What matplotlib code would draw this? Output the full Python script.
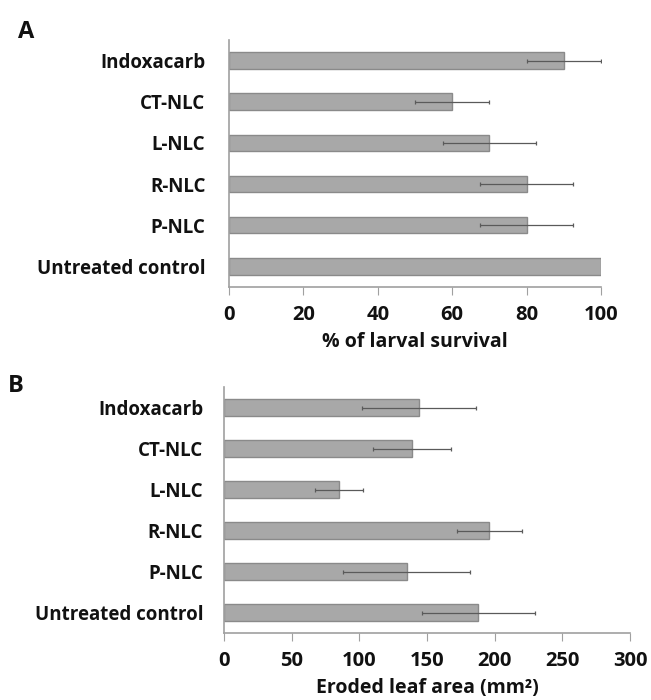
import numpy as np
import matplotlib.pyplot as plt

plt.rcParams['font.family'] = ['Open Sans', 'DejaVu Sans']
plt.rcParams['font.weight'] = 'bold'

# === Données ===
categories = ["Untreated control", "P-NLC", "R-NLC", "L-NLC", "CT-NLC", "Indoxacarb"]

survie = [100, 80, 80, 70, 60, 90]
survie_err = [0, 12.5, 12.5, 12.5, 10, 10]

surface = [188, 135, 196, 85, 139, 144]
surface_err = [42, 47, 24, 18, 29, 42]

bar_col = "#a8a8a8"
edge_col = "#8a8a8a"
spine_col = "#a0a0a0"
err_col = "#5a5a5a"
txt_col = "#111111"

fig = plt.figure(figsize=(6.51, 7), dpi=100)
axA = fig.add_axes([0.3518, 0.59, 0.5714, 0.3529])
axB = fig.add_axes([0.3441, 0.0957, 0.6237, 0.3514])


def panneau(ax, vals, errs, xmax, step, xlabel, ypad):
    y = np.arange(len(categories))
    ax.barh(y, vals, height=0.4, color=bar_col, edgecolor=edge_col, linewidth=1.0)
    # barres d'erreur seulement là où il y en a
    m = np.array(errs) > 0
    ax.errorbar(np.array(vals)[m], y[m], xerr=np.array(errs)[m], fmt='none',
                ecolor=err_col, elinewidth=0.9, capsize=1.5, capthick=0.9)
    ax.set_ylim(-0.5, len(categories) - 0.5)
    ax.set_xlim(0, xmax)
    ax.set_xticks(np.arange(0, xmax + 1, step))
    ax.set_yticks(y)
    ax.set_yticklabels(categories, fontsize=13.5, fontweight='bold', color=txt_col)
    ax.tick_params(axis='y', length=0, pad=ypad)
    ax.tick_params(axis='x', length=6, color=spine_col, labelsize=14.5,
                   labelcolor=txt_col, pad=7)
    for lab in ax.get_xticklabels():
        lab.set_fontweight('bold')
    for s in ['top', 'right']:
        ax.spines[s].set_visible(False)
    for s in ['left', 'bottom']:
        ax.spines[s].set_color(spine_col)
        ax.spines[s].set_linewidth(1.2)
    ax.set_xlabel(xlabel, fontsize=14, fontweight='bold', color=txt_col, labelpad=5)


panneau(axA, survie, survie_err, 100, 20, "% of larval survival", 17)
panneau(axB, surface, surface_err, 300, 50, "Eroded leaf area (mm²)", 15)

fig.text(18 / 651, 1 - 38 / 700, "A", fontsize=17, fontweight='bold', color=txt_col)
fig.text(8 / 651, 1 - 392 / 700, "B", fontsize=17, fontweight='bold', color=txt_col)

fig.savefig("out.png", dpi=100, facecolor='white')
